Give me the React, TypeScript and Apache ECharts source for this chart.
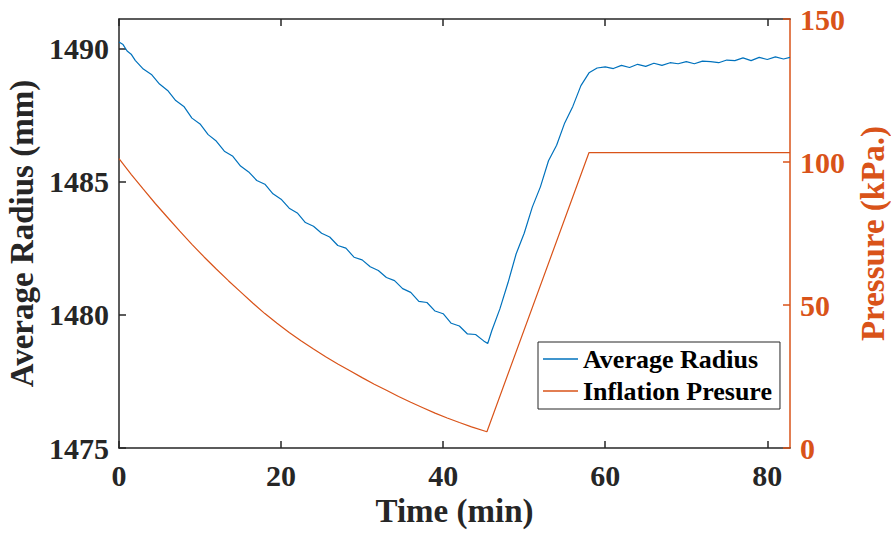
import React, { useEffect, useRef } from "react";
import * as echarts from "echarts";

const radiusTime = [
  0, 0.5, 1, 1.5, 2, 3, 4, 5, 6, 7, 8, 9, 10, 11, 12, 13, 14, 15, 16, 17, 18, 19, 20,
  21, 22, 23, 24, 25, 26, 27, 28, 29, 30, 31, 32, 33, 34, 35, 36, 37, 38, 39,
  40, 41, 42, 43, 44, 45, 45.5, 46, 47, 48, 49, 50, 51, 52, 53, 54, 55, 56,
  57, 58, 59, 60, 61, 62, 63, 64, 65, 66, 67, 68, 69, 70, 71, 72, 73, 74, 75,
  76, 77, 78, 79, 80, 81, 82, 82.8,
];
const radiusValue = [
  1490.24, 1490.14, 1489.9, 1489.78, 1489.55, 1489.22, 1489.02, 1488.66, 1488.42, 1488.04,
  1487.82, 1487.38, 1487.16, 1486.76, 1486.52, 1486.14, 1485.96, 1485.58,
  1485.36, 1485.04, 1484.9, 1484.54, 1484.34, 1484.0, 1483.82, 1483.46,
  1483.32, 1483.06, 1482.92, 1482.6, 1482.5, 1482.16, 1482.06, 1481.8,
  1481.66, 1481.4, 1481.28, 1480.98, 1480.84, 1480.5, 1480.46, 1480.14,
  1480.04, 1479.68, 1479.58, 1479.28, 1479.26, 1479.02, 1478.92, 1479.4,
  1480.22, 1481.2, 1482.28, 1483.06, 1484.04, 1484.8, 1485.78, 1486.36,
  1487.2, 1487.82, 1488.6, 1489.08, 1489.26, 1489.3, 1489.24, 1489.36,
  1489.28, 1489.4, 1489.32, 1489.44, 1489.36, 1489.46, 1489.42, 1489.5,
  1489.42, 1489.52, 1489.5, 1489.46, 1489.56, 1489.54, 1489.64, 1489.54,
  1489.66, 1489.58, 1489.68, 1489.6, 1489.66,
];

const pressureTime = [
  0, 1.5, 3, 4.5, 6, 7.5, 9, 10.5, 12, 13.5, 15, 16.5, 18, 19.5, 21, 22.5, 24,
  25.5, 27, 28.5, 30, 31.5, 33, 34.5, 36, 37.5, 39, 40.5, 42, 43.5, 45.4, 58, 82.8,
];
const pressureValue = [
  101.2, 95.7, 90.5, 85.4, 80.6, 75.8, 71.2, 66.8, 62.6, 58.5, 54.6, 50.7, 47.0,
  43.6, 40.4, 37.4, 34.6, 31.9, 29.4, 27.0, 24.6, 22.3, 20.2, 18.0, 16.0, 14.1,
  12.2, 10.5, 8.9, 7.4, 5.7, 103.3, 103.3,
];

const xTicks = [0, 20, 40, 60, 80];
const radiusTicks = [1475, 1480, 1485, 1490];
const pressureTicks = [0, 50, 100, 150];

const FONT = "Liberation Serif";
const DARK = "#262626";
const BLUE = "#0072BD";
const ORANGE = "#D95319";

export default function App() {
  const ref = useRef<HTMLDivElement>(null);

  useEffect(() => {
    if (!ref.current) return;
    const chart = echarts.init(ref.current, undefined, { renderer: "svg" });
    const labelStyle = { fontFamily: FONT, fontWeight: "bold" as const, fontSize: 30, color: DARK };
    const nameStyle = { fontFamily: FONT, fontWeight: "bold" as const, fontSize: 33, color: DARK };

    chart.setOption({
      animation: false,
      backgroundColor: "#ffffff",
      textStyle: { fontFamily: FONT },
      grid: { left: 119, right: 101, top: 19, bottom: 87, containLabel: false, outerBoundsMode: "none" },
      legend: {
        orient: "vertical",
        left: 538,
        top: 342,
        padding: [4, 8, 5, 5],
        itemWidth: 35,
        itemHeight: 1.3,
        itemGap: 6,
        icon: "rect",
        backgroundColor: "#ffffff",
        borderColor: DARK,
        borderWidth: 1,
        borderRadius: 0,
        textStyle: { fontFamily: FONT, fontWeight: "bold", fontSize: 26, color: "#000000", lineHeight: 26 },
        data: ["Average Radius", "Inflation Presure"],
      },
      xAxis: [
        {
          type: "value",
          min: 0,
          max: 82.8,
          interval: 20,
          position: "bottom",
          name: "Time (min)",
          nameLocation: "middle",
          nameGap: 42,
          nameTextStyle: nameStyle,
          axisLine: { show: true, onZero: false, lineStyle: { color: DARK, width: 1.5 } },
          axisTick: { show: true, inside: true, length: 7, customValues: xTicks, lineStyle: { color: DARK, width: 1.5 } },
          axisLabel: {
            ...labelStyle,
            margin: 12,
            customValues: xTicks,
            formatter: (v: number) => (xTicks.includes(v) ? String(v) : ""),
          },
          splitLine: { show: false },
        },
        {
          type: "value",
          min: 0,
          max: 82.8,
          interval: 20,
          position: "top",
          axisLine: { show: true, onZero: false, lineStyle: { color: DARK, width: 1.5 } },
          axisTick: { show: true, inside: true, length: 7, customValues: xTicks, lineStyle: { color: DARK, width: 1.5 } },
          axisLabel: { show: false },
          splitLine: { show: false },
        },
      ],
      yAxis: [
        {
          type: "value",
          min: 1475,
          max: 1491.1,
          interval: 5,
          position: "left",
          name: "Average Radius (mm)",
          nameLocation: "middle",
          nameGap: 80,
          nameTextStyle: nameStyle,
          axisLine: { show: true, onZero: false, lineStyle: { color: DARK, width: 1.5 } },
          axisTick: { show: true, inside: true, length: 7, customValues: radiusTicks, lineStyle: { color: DARK, width: 1.5 } },
          axisLabel: {
            ...labelStyle,
            margin: 10,
            customValues: radiusTicks,
            formatter: (v: number) => (radiusTicks.includes(v) ? String(v) : ""),
          },
          splitLine: { show: false },
        },
        {
          type: "value",
          min: 0,
          max: 150,
          interval: 50,
          position: "right",
          name: "Pressure (kPa.)",
          nameLocation: "middle",
          nameGap: 66,
          nameTextStyle: { ...nameStyle, color: ORANGE },
          axisLine: { show: true, onZero: false, lineStyle: { color: ORANGE, width: 1.5 } },
          axisTick: { show: true, inside: true, length: 7, customValues: pressureTicks, lineStyle: { color: ORANGE, width: 1.5 } },
          axisLabel: {
            ...labelStyle,
            color: ORANGE,
            margin: 10,
            customValues: pressureTicks,
          },
          splitLine: { show: false },
        },
      ],
      series: [
        {
          name: "Average Radius",
          type: "line",
          xAxisIndex: 0,
          yAxisIndex: 0,
          symbol: "none",
          showSymbol: false,
          lineStyle: { color: BLUE, width: 1.2 },
          itemStyle: { color: BLUE },
          data: radiusTime.map((t, i) => [t, radiusValue[i]]),
        },
        {
          name: "Inflation Presure",
          type: "line",
          xAxisIndex: 0,
          yAxisIndex: 1,
          symbol: "none",
          showSymbol: false,
          lineStyle: { color: ORANGE, width: 1.2 },
          itemStyle: { color: ORANGE },
          data: pressureTime.map((t, i) => [t, pressureValue[i]]),
        },
      ],
    });
    return () => chart.dispose();
  }, []);

  return (
    <div
      ref={ref}
      style={{ position: "fixed", left: 0, top: 0, width: 891, height: 535, background: "#fff" }}
    />
  );
}
